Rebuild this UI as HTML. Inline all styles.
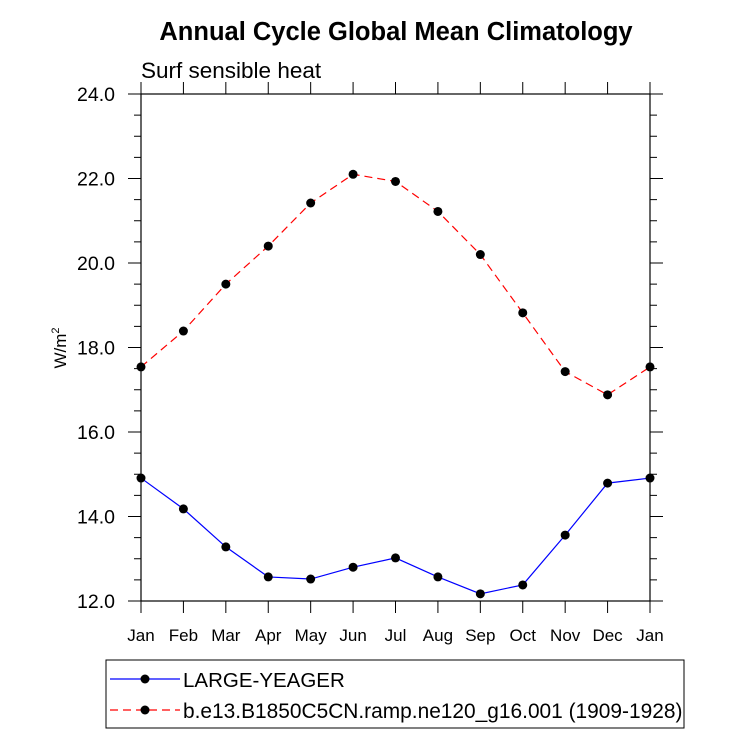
<!DOCTYPE html>
<html><head><meta charset="utf-8"><style>body{margin:0;background:#fff}svg{display:block;font-family:"Liberation Sans",sans-serif}</style></head>
<body>
<svg id="chart" width="733" height="734">
<text x="396" y="40" text-anchor="middle" font-size="25.5" font-weight="bold">Annual Cycle Global Mean Climatology</text>
<text x="141" y="78" font-size="22.5">Surf sensible heat</text>
<text transform="translate(66,348) rotate(-90)" text-anchor="middle" font-size="17">W/m<tspan dy="-7" font-size="11">2</tspan></text>
<g id="axes"></g>
<g id="series"></g>
<g>
<rect x="106" y="660" width="578" height="68" fill="none" stroke="#000" stroke-width="1"/>
<line x1="110" y1="679" x2="180" y2="679" stroke="#00f" stroke-width="1.2"/>
<circle cx="145" cy="679" r="4.5"/>
<text x="183" y="687" font-size="20.5">LARGE-YEAGER</text>
<line x1="110" y1="710" x2="180" y2="710" stroke="#f00" stroke-width="1.2" stroke-dasharray="8,5"/>
<circle cx="145" cy="710" r="4.5"/>
<text x="183" y="718" font-size="20.9">b.e13.B1850C5CN.ramp.ne120_g16.001 (1909-1928)</text>
</g>
</svg>
<script>
const months=["Jan","Feb","Mar","Apr","May","Jun","Jul","Aug","Sep","Oct","Nov","Dec","Jan"];
const largeYeager=[14.91,14.18,13.28,12.57,12.52,12.80,13.02,12.57,12.17,12.38,13.56,14.79,14.91];
const caseRun=[17.54,18.39,19.50,20.40,21.42,22.10,21.93,21.22,20.20,18.82,17.43,16.88,17.54];
const yTicks=[12,14,16,18,20,22,24];
const NS="http://www.w3.org/2000/svg";
const L=141,R=650,T=94,B=601,ymin=12,ymax=24;
const X=i=>L+(R-L)*i/(months.length-1);
const Y=v=>B-(B-T)*(v-ymin)/(ymax-ymin);
function mk(tag,at,parent){const e=document.createElementNS(NS,tag);for(const k in at)e.setAttribute(k,at[k]);parent.appendChild(e);return e;}
const ax=document.getElementById('axes');
const frame=mk('rect',{x:L,y:T,width:R-L,height:B-T,fill:'none',stroke:'#000','stroke-width':1.2},ax);


for(let v=ymin;v<=ymax+1e-9;v+=0.5){
  const major=Math.abs(v-Math.round(v/2)*2)<1e-9;const len=major?13:7;
  mk('line',{x1:L-len,y1:Y(v),x2:L,y2:Y(v),stroke:'#000'},ax);
  mk('line',{x1:R,y1:Y(v),x2:R+len,y2:Y(v),stroke:'#000'},ax);
}
yTicks.forEach(v=>{const t=mk('text',{x:L-26,y:Y(v)+7,'text-anchor':'end','font-size':19.5},ax);t.textContent=v.toFixed(1);

});
months.forEach((m,i)=>{const x=X(i);
  mk('line',{x1:x,y1:T-12,x2:x,y2:T,stroke:'#000'},ax);
  mk('line',{x1:x,y1:B,x2:x,y2:B+12,stroke:'#000'},ax);
  const t=mk('text',{x:x,y:641,'text-anchor':'middle','font-size':17},ax);t.textContent=m;
  
  });
const sg=document.getElementById('series');
function draw(vals,color,dash,name){
  const p=mk('polyline',{points:vals.map((v,i)=>X(i)+','+Y(v)).join(' '),fill:'none',stroke:color,'stroke-width':1.2,'stroke-dasharray':dash},sg);
  
  
  vals.forEach((v,i)=>{const c=mk('circle',{cx:X(i),cy:Y(v),r:4.5,fill:'#000'},sg);
    
    });
}
draw(largeYeager,'#00f','none','large-yeager');
draw(caseRun,'#f00','8,5','b-e13');
</script>
</body></html>
